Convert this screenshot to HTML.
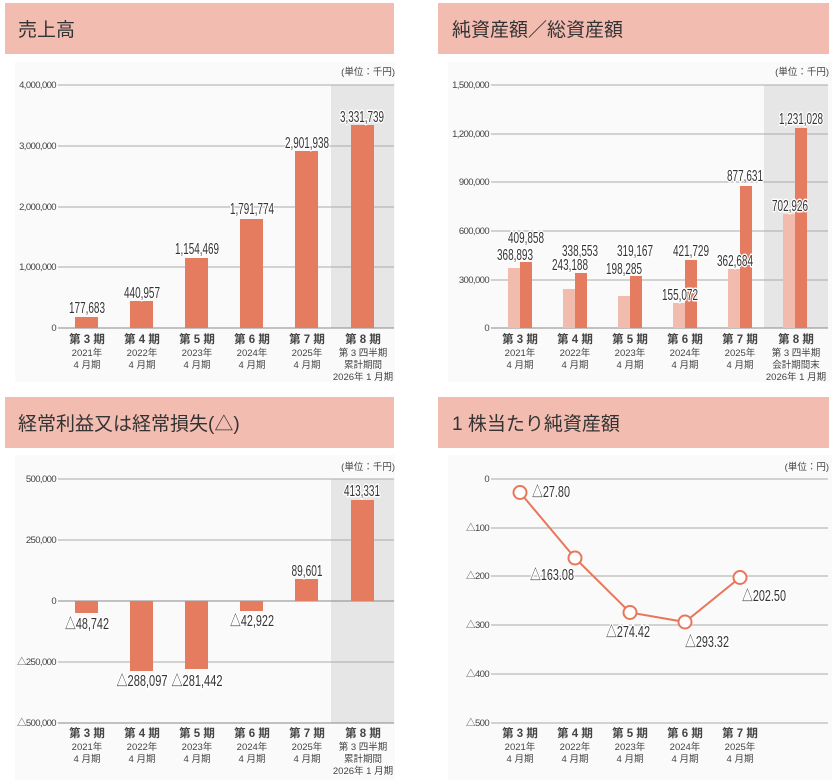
<!DOCTYPE html>
<html><head><meta charset="utf-8"><style>
html,body{margin:0;padding:0;background:#fff;}
svg{display:block;font-family:"Liberation Sans","Noto Sans CJK JP",sans-serif;}
.t{font-size:19px;fill:#333;}
.ax{font-size:9.5px;fill:#444;text-anchor:end;letter-spacing:-0.6px;}
.v{font-size:15.5px;fill:#333;text-anchor:middle;stroke:#fff;stroke-width:3px;paint-order:stroke;stroke-linejoin:round;}
.x1{font-size:11.5px;fill:#444;text-anchor:middle;font-weight:bold;}
.x2{font-size:9.5px;fill:#444;text-anchor:middle;}
.u{font-size:9.5px;fill:#444;text-anchor:end;}
.g{stroke:#aaa;stroke-width:1;}
.b{fill:#e57b5f;}
.l{fill:#f1bcad;}
</style></head><body>
<svg width="832" height="780" viewBox="0 0 832 780">
<rect x="15" y="62" width="380" height="320" fill="#fafafa"/>
<rect x="448" y="62" width="384" height="320" fill="#fafafa"/>
<rect x="15" y="455" width="380" height="325" fill="#fafafa"/>
<rect x="448" y="455" width="384" height="325" fill="#fafafa"/>
<rect x="5" y="3" width="389" height="51" fill="#f2bcb0"/>
<rect x="438" y="3" width="391" height="51" fill="#f2bcb0"/>
<rect x="5" y="397" width="389" height="51" fill="#f2bcb0"/>
<rect x="438" y="397" width="391" height="51" fill="#f2bcb0"/>
<text class="t" x="18" y="36">売上高</text>
<text class="t" x="452" y="36">純資産額／総資産額</text>
<text class="t" x="18" y="430">経常利益又は経常損失(△)</text>
<text class="t" x="452" y="430">1 株当たり純資産額</text>

<!-- ===== Chart 1 ===== -->
<text class="u" x="395" y="75">(単位：千円)</text>
<rect x="331" y="85" width="63" height="243" fill="#e6e6e6"/>
<g class="g">
<line x1="58" y1="85" x2="394" y2="85"/><line x1="58" y1="146" x2="394" y2="146"/>
<line x1="58" y1="207" x2="394" y2="207"/><line x1="58" y1="267" x2="394" y2="267"/>
<line x1="58" y1="328" x2="394" y2="328" stroke="#888"/>
</g>
<text class="ax" x="56" y="88">4,000,000</text><text class="ax" x="56" y="149">3,000,000</text>
<text class="ax" x="56" y="210">2,000,000</text><text class="ax" x="56" y="270">1,000,000</text>
<text class="ax" x="56" y="331">0</text>
<rect class="b" x="75" y="317" width="23" height="11"/>
<rect class="b" x="130" y="301" width="23" height="27"/>
<rect class="b" x="185" y="258" width="23" height="70"/>
<rect class="b" x="240" y="219" width="23" height="109"/>
<rect class="b" x="295" y="151" width="23" height="177"/>
<rect class="b" x="351" y="125" width="23" height="203"/>
<text class="v" x="87" y="313" textLength="36" lengthAdjust="spacingAndGlyphs">177,683</text>
<text class="v" x="142" y="298" textLength="36" lengthAdjust="spacingAndGlyphs">440,957</text>
<text class="v" x="197" y="254" textLength="44" lengthAdjust="spacingAndGlyphs">1,154,469</text>
<text class="v" x="252" y="214" textLength="44" lengthAdjust="spacingAndGlyphs">1,791,774</text>
<text class="v" x="307" y="148" textLength="44" lengthAdjust="spacingAndGlyphs">2,901,938</text>
<text class="v" x="362" y="122" textLength="44" lengthAdjust="spacingAndGlyphs">3,331,739</text>
<g>
<text class="x1" x="87" y="343">第 3 期</text><text class="x2" x="87" y="356">2021年</text><text class="x2" x="87" y="368">4 月期</text>
<text class="x1" x="142" y="343">第 4 期</text><text class="x2" x="142" y="356">2022年</text><text class="x2" x="142" y="368">4 月期</text>
<text class="x1" x="197" y="343">第 5 期</text><text class="x2" x="197" y="356">2023年</text><text class="x2" x="197" y="368">4 月期</text>
<text class="x1" x="252" y="343">第 6 期</text><text class="x2" x="252" y="356">2024年</text><text class="x2" x="252" y="368">4 月期</text>
<text class="x1" x="307" y="343">第 7 期</text><text class="x2" x="307" y="356">2025年</text><text class="x2" x="307" y="368">4 月期</text>
<text class="x1" x="363" y="343">第 8 期</text><text class="x2" x="363" y="356">第 3 四半期</text><text class="x2" x="363" y="368">累計期間</text><text class="x2" x="363" y="380">2026年 1 月期</text>
</g>

<!-- ===== Chart 2 ===== -->
<text class="u" x="829" y="75">(単位：千円)</text>
<rect x="764" y="85" width="64" height="243" fill="#e6e6e6"/>
<g class="g">
<line x1="491" y1="85" x2="828" y2="85"/><line x1="491" y1="134" x2="828" y2="134"/>
<line x1="491" y1="182" x2="828" y2="182"/><line x1="491" y1="231" x2="828" y2="231"/>
<line x1="491" y1="280" x2="828" y2="280"/><line x1="491" y1="328" x2="828" y2="328" stroke="#888"/>
</g>
<text class="ax" x="489" y="88">1,500,000</text><text class="ax" x="489" y="137">1,200,000</text>
<text class="ax" x="489" y="185">900,000</text><text class="ax" x="489" y="234">600,000</text>
<text class="ax" x="489" y="283">300,000</text><text class="ax" x="489" y="331">0</text>
<rect class="l" x="508" y="268" width="12" height="60"/>
<rect class="l" x="563" y="289" width="12" height="39"/>
<rect class="l" x="618" y="296" width="12" height="32"/>
<rect class="l" x="673" y="303" width="12" height="25"/>
<rect class="l" x="728" y="269" width="12" height="59"/>
<rect class="l" x="783" y="214" width="12" height="114"/>
<rect class="b" x="520" y="262" width="12" height="66"/>
<rect class="b" x="575" y="273" width="12" height="55"/>
<rect class="b" x="630" y="276" width="12" height="52"/>
<rect class="b" x="685" y="260" width="12" height="68"/>
<rect class="b" x="740" y="186" width="12" height="142"/>
<rect class="b" x="795" y="128" width="12" height="200"/>
<text class="v" x="526" y="243" textLength="36" lengthAdjust="spacingAndGlyphs">409,858</text>
<text class="v" x="515" y="260" textLength="36" lengthAdjust="spacingAndGlyphs">368,893</text>
<text class="v" x="580" y="256" textLength="36" lengthAdjust="spacingAndGlyphs">338,553</text>
<text class="v" x="570" y="270" textLength="36" lengthAdjust="spacingAndGlyphs">243,188</text>
<text class="v" x="635" y="256" textLength="36" lengthAdjust="spacingAndGlyphs">319,167</text>
<text class="v" x="624" y="274" textLength="36" lengthAdjust="spacingAndGlyphs">198,285</text>
<text class="v" x="691" y="256" textLength="36" lengthAdjust="spacingAndGlyphs">421,729</text>
<text class="v" x="680" y="300" textLength="36" lengthAdjust="spacingAndGlyphs">155,072</text>
<text class="v" x="745" y="181" textLength="36" lengthAdjust="spacingAndGlyphs">877,631</text>
<text class="v" x="735" y="266" textLength="36" lengthAdjust="spacingAndGlyphs">362,684</text>
<text class="v" x="801" y="124" textLength="44" lengthAdjust="spacingAndGlyphs">1,231,028</text>
<text class="v" x="790" y="211" textLength="36" lengthAdjust="spacingAndGlyphs">702,926</text>
<g>
<text class="x1" x="520" y="343">第 3 期</text><text class="x2" x="520" y="356">2021年</text><text class="x2" x="520" y="368">4 月期</text>
<text class="x1" x="575" y="343">第 4 期</text><text class="x2" x="575" y="356">2022年</text><text class="x2" x="575" y="368">4 月期</text>
<text class="x1" x="630" y="343">第 5 期</text><text class="x2" x="630" y="356">2023年</text><text class="x2" x="630" y="368">4 月期</text>
<text class="x1" x="685" y="343">第 6 期</text><text class="x2" x="685" y="356">2024年</text><text class="x2" x="685" y="368">4 月期</text>
<text class="x1" x="740" y="343">第 7 期</text><text class="x2" x="740" y="356">2025年</text><text class="x2" x="740" y="368">4 月期</text>
<text class="x1" x="796" y="343">第 8 期</text><text class="x2" x="796" y="356">第 3 四半期</text><text class="x2" x="796" y="368">会計期間末</text><text class="x2" x="796" y="380">2026年 1 月期</text>
</g>

<!-- ===== Chart 3 ===== -->
<text class="u" x="395" y="470">(単位：千円)</text>
<rect x="331" y="479" width="63" height="244" fill="#e6e6e6"/>
<g class="g">
<line x1="58" y1="479" x2="394" y2="479"/><line x1="58" y1="540" x2="394" y2="540"/>
<line x1="58" y1="601" x2="394" y2="601" stroke="#888"/><line x1="58" y1="662" x2="394" y2="662"/>
<line x1="58" y1="723" x2="394" y2="723" stroke="#888"/>
</g>
<text class="ax" x="56" y="482">500,000</text><text class="ax" x="56" y="543">250,000</text>
<text class="ax" x="56" y="604">0</text><text class="ax" x="56" y="665">△250,000</text>
<text class="ax" x="56" y="726">△500,000</text>
<rect class="b" x="75" y="601" width="23" height="12"/>
<rect class="b" x="130" y="601" width="23" height="70"/>
<rect class="b" x="185" y="601" width="23" height="68"/>
<rect class="b" x="240" y="601" width="23" height="10"/>
<rect class="b" x="295" y="579" width="23" height="22"/>
<rect class="b" x="351" y="500" width="23" height="101"/>
<text class="v" x="87" y="629" textLength="44" lengthAdjust="spacingAndGlyphs">△48,742</text>
<text class="v" x="142" y="686" textLength="51" lengthAdjust="spacingAndGlyphs">△288,097</text>
<text class="v" x="197" y="686" textLength="51" lengthAdjust="spacingAndGlyphs">△281,442</text>
<text class="v" x="252" y="626" textLength="44" lengthAdjust="spacingAndGlyphs">△42,922</text>
<text class="v" x="307" y="576" textLength="31" lengthAdjust="spacingAndGlyphs">89,601</text>
<text class="v" x="362" y="496" textLength="36" lengthAdjust="spacingAndGlyphs">413,331</text>
<g>
<text class="x1" x="87" y="737">第 3 期</text><text class="x2" x="87" y="750">2021年</text><text class="x2" x="87" y="762">4 月期</text>
<text class="x1" x="142" y="737">第 4 期</text><text class="x2" x="142" y="750">2022年</text><text class="x2" x="142" y="762">4 月期</text>
<text class="x1" x="197" y="737">第 5 期</text><text class="x2" x="197" y="750">2023年</text><text class="x2" x="197" y="762">4 月期</text>
<text class="x1" x="252" y="737">第 6 期</text><text class="x2" x="252" y="750">2024年</text><text class="x2" x="252" y="762">4 月期</text>
<text class="x1" x="307" y="737">第 7 期</text><text class="x2" x="307" y="750">2025年</text><text class="x2" x="307" y="762">4 月期</text>
<text class="x1" x="363" y="737">第 8 期</text><text class="x2" x="363" y="750">第 3 四半期</text><text class="x2" x="363" y="762">累計期間</text><text class="x2" x="363" y="774">2026年 1 月期</text>
</g>

<!-- ===== Chart 4 ===== -->
<text class="u" x="829" y="470">(単位：円)</text>
<g class="g">
<line x1="491" y1="479" x2="828" y2="479"/><line x1="491" y1="528" x2="828" y2="528"/>
<line x1="491" y1="576" x2="828" y2="576"/><line x1="491" y1="625" x2="828" y2="625"/>
<line x1="491" y1="674" x2="828" y2="674"/><line x1="491" y1="723" x2="828" y2="723"/>
</g>
<text class="ax" x="489" y="482">0</text><text class="ax" x="489" y="531">△100</text>
<text class="ax" x="489" y="579">△200</text><text class="ax" x="489" y="628">△300</text>
<text class="ax" x="489" y="677">△400</text><text class="ax" x="489" y="726">△500</text>
<polyline points="520,492.5 575,558 630,612.5 685,622 740,577.5" fill="none" stroke="#e8775a" stroke-width="2"/>
<g fill="#fff" stroke="#e8775a" stroke-width="2">
<circle cx="520" cy="492.5" r="6.5"/><circle cx="575" cy="558" r="6.5"/>
<circle cx="630" cy="612.5" r="6.5"/><circle cx="685" cy="622" r="6.5"/>
<circle cx="740" cy="577.5" r="6.5"/>
</g>
<text class="v" x="551" y="497" textLength="38" lengthAdjust="spacingAndGlyphs">△27.80</text>
<text class="v" x="552" y="580" textLength="44" lengthAdjust="spacingAndGlyphs">△163.08</text>
<text class="v" x="628" y="637" textLength="44" lengthAdjust="spacingAndGlyphs">△274.42</text>
<text class="v" x="707" y="647" textLength="44" lengthAdjust="spacingAndGlyphs">△293.32</text>
<text class="v" x="764" y="601" textLength="44" lengthAdjust="spacingAndGlyphs">△202.50</text>
<g>
<text class="x1" x="520" y="737">第 3 期</text><text class="x2" x="520" y="750">2021年</text><text class="x2" x="520" y="762">4 月期</text>
<text class="x1" x="575" y="737">第 4 期</text><text class="x2" x="575" y="750">2022年</text><text class="x2" x="575" y="762">4 月期</text>
<text class="x1" x="630" y="737">第 5 期</text><text class="x2" x="630" y="750">2023年</text><text class="x2" x="630" y="762">4 月期</text>
<text class="x1" x="685" y="737">第 6 期</text><text class="x2" x="685" y="750">2024年</text><text class="x2" x="685" y="762">4 月期</text>
<text class="x1" x="740" y="737">第 7 期</text><text class="x2" x="740" y="750">2025年</text><text class="x2" x="740" y="762">4 月期</text>
</g>
</svg>
</body></html>
